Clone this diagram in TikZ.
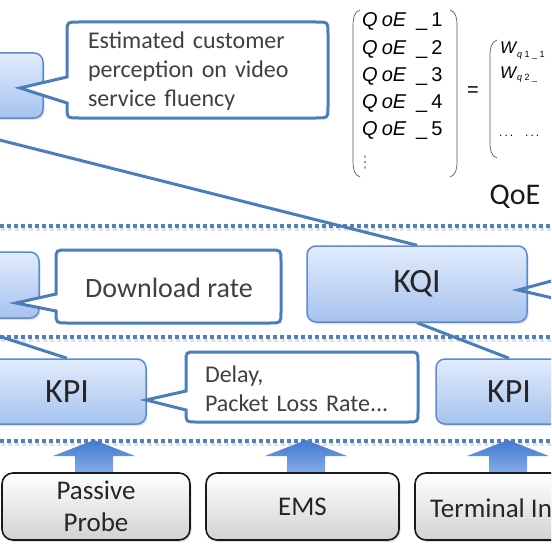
\documentclass[tikz,border=0pt]{standalone}
\usepackage{fontspec}
\setmainfont{Carlito}
\newfontfamily\arialf{Liberation Sans}
\newfontfamily\dejavu{DejaVu Sans}
\usetikzlibrary{shadows}
\definecolor{lineblue}{HTML}{4A7EBB}
\definecolor{boxborder}{HTML}{5B8BD0}
\definecolor{boxtop}{HTML}{E2ECFC}
\definecolor{boxbot}{HTML}{A6C2EE}
\definecolor{dotblue}{HTML}{4F81BD}
\definecolor{arrowtop}{HTML}{4479CF}
\definecolor{arrowbot}{HTML}{8AB0EA}
\definecolor{graybot}{HTML}{D2D2D2}
\definecolor{txt}{HTML}{404040}
\pgfdeclarelayer{back}
\pgfsetlayers{back,main}
\newcommand{\callL}[9]{\draw[callshape] (#1,#6) -- (#8,#9) -- (#1,#7) -- (#1,#4-#5) .. controls (#1,#4) .. (#1+#5,#4) -- (#3-#5,#4) .. controls (#3,#4) .. (#3,#4-#5) -- (#3,#2+#5) .. controls (#3,#2) .. (#3-#5,#2) -- (#1+#5,#2) .. controls (#1,#2) .. (#1,#2+#5) -- cycle;}
\begin{document}
\begin{tikzpicture}[x=1pt,y=-1pt,
 bluebox/.style={draw=boxborder, line width=1.5pt, rounded corners=9pt, top color=boxtop, bottom color=boxbot, drop shadow={opacity=0.25, shadow xshift=1.5pt, shadow yshift=-2pt}, inner sep=0pt, font=\fontsize{34}{40}\selectfont, text=black!85},
 graybox/.style={draw=black!90, line width=1.6pt, rounded corners=11pt, top color=white, bottom color=graybot, drop shadow={opacity=0.25, shadow xshift=1.5pt, shadow yshift=-2pt}, inner sep=0pt, font=\fontsize{27}{34}\selectfont, align=center, text=black!85},
 callshape/.style={draw=lineblue, line width=3pt, fill=white, line join=miter},
 calltext/.style={inner sep=0pt, text=txt, align=left},
 link/.style={draw=lineblue, line width=3pt},
 dotline/.style={draw=dotblue, line width=4pt, dash pattern=on 4pt off 3pt},
 dotshadow/.style={draw=black!12, line width=3pt, dash pattern=on 4pt off 3pt},
 blockarrow/.style={top color=arrowtop, bottom color=arrowbot, draw=none},
 paren/.style={draw=gray!70!black, line width=0.7pt},
 mtext/.style={inner sep=0pt, anchor=west, font=\arialf\fontsize{20}{22}\selectfont}
]
\useasboundingbox (0,0) rectangle (551,551);
\clip (0,0) rectangle (551,551);

% blue boxes
\node[bluebox, minimum width=73pt, minimum height=65pt] (qoebox) at (6.5,85.5) {};
\node[bluebox, minimum width=69pt, minimum height=66pt] (midbox) at (4.5,285) {};
\node[bluebox, minimum width=220pt, minimum height=76pt] (kqi) at (417,284) {KQI};
\node[bluebox, minimum width=158pt, minimum height=65pt] (kpiL) at (67,391.5) {KPI};
\node[bluebox, minimum width=146pt, minimum height=65pt] (kpiR) at (509,391.5) {KPI};

% dotted separators and links (behind)
\coordinate (qoefoot) at (-60,125);
\coordinate (midfoot) at (-60,317);
\begin{pgfonlayer}{back}
\fill[white] (0,0) rectangle (551,551);
\foreach \yy in {226,337,441}{
  \draw[dotshadow] (1,\yy+3) -- (551,\yy+3);
  \draw[dotline] (0,\yy) -- (551,\yy);
}
\draw[link] (qoefoot) -- (kqi.north);
\draw[link] (midfoot) -- (kpiL.north);
\draw[link] (kqi.south) -- (kpiR.north);
\end{pgfonlayer}

% pointer into KQI from the right
\coordinate (rp1) at (570,276);
\coordinate (rp2) at (570,302);
\coordinate (kqitip) at (518,290);
\draw[link, line join=miter] (rp1) -- (kqitip) -- (rp2);

% callouts
\callL{67}{22}{328}{118}{12}{77}{103}{20}{88}
\node[calltext, text width=222pt, font=\fontsize{24}{29}\selectfont] (c1t) at (199,71.5) {Estimated customer\\perception on video\\service fluency};
\callL{56}{250}{281}{323}{11}{294}{311}{16}{303}
\node[calltext, font=\fontsize{28}{34}\selectfont] (c2t) at (169,288) {Download rate};
\callL{186}{352}{418}{422}{10}{391}{410}{146}{400}
\node[calltext, text width=196pt, font=\fontsize{24}{29}\selectfont] (c3t) at (303,388.5) {Delay,\\Packet Loss Rate...};

% block arrows
\foreach \cx in {94,306,508}{
  \shade[blockarrow] (\cx,440) -- (\cx+41,456) -- (\cx+19,456) -- (\cx+19,476) -- (\cx-19,476) -- (\cx-19,456) -- (\cx-41,456) -- cycle;
}

% source boxes
\node[graybox, minimum width=188pt, minimum height=67pt] (probe) at (96,506.5) {Passive\\[-2pt]Probe};
\node[graybox, minimum width=193pt, minimum height=67pt] (ems) at (302.5,506.5) {EMS};
\node[graybox, minimum width=185pt, minimum height=67pt] (term) at (507.5,506.5) {};
\node[inner sep=0pt, anchor=west, font=\fontsize{27}{34}\selectfont, text=black!85] (termt) at (430,508) {Terminal In};

% matrix
\draw[paren] (360,10) .. controls (354,12) and (353,18) .. (353,26) -- (353,161) .. controls (353,169) and (354,175) .. (360,177);
\draw[paren] (450,10) .. controls (456,12) and (457,18) .. (457,26) -- (457,161) .. controls (457,169) and (456,175) .. (450,177);
\foreach \i/\y in {1/22,2/50,3/77,4/104,5/131}{
  \node[mtext] (q\i) at (362,\y) {\itshape Q\hspace{4pt}oE\hspace{10pt}\upshape\_\hspace{4pt}\i};
}
\node[inner sep=0pt, text=gray, font=\dejavu\fontsize{16}{18}\selectfont] (qd) at (365,163) {⋮};
\node[mtext] (eq) at (467,92) {=};
\draw[paren] (497,40) .. controls (491,42) and (490,48) .. (490,56) -- (490,142) .. controls (490,150) and (491,156) .. (497,158);
\node[mtext, font=\arialf\itshape\fontsize{17}{18}\selectfont] (w1) at (500,48) {W};
\node[mtext, font=\arialf\fontsize{9}{10}\selectfont] (w1s) at (517,55) {\itshape q\upshape\ 1 \_ 1};
\node[mtext, font=\arialf\itshape\fontsize{17}{18}\selectfont] (w2) at (500,73) {W};
\node[mtext, font=\arialf\fontsize{9}{10}\selectfont] (w2s) at (517,78) {\itshape q\upshape\ 2 \_};
\node[mtext, font=\arialf\fontsize{12}{14}\selectfont] (wd) at (499,136) {.\,.\,.\quad .\,.\,.};
\node[inner sep=0pt, font=\fontsize{30}{36}\selectfont, text=black!90] (qoelabel) at (515,197) {QoE};
\end{tikzpicture}
\end{document}
